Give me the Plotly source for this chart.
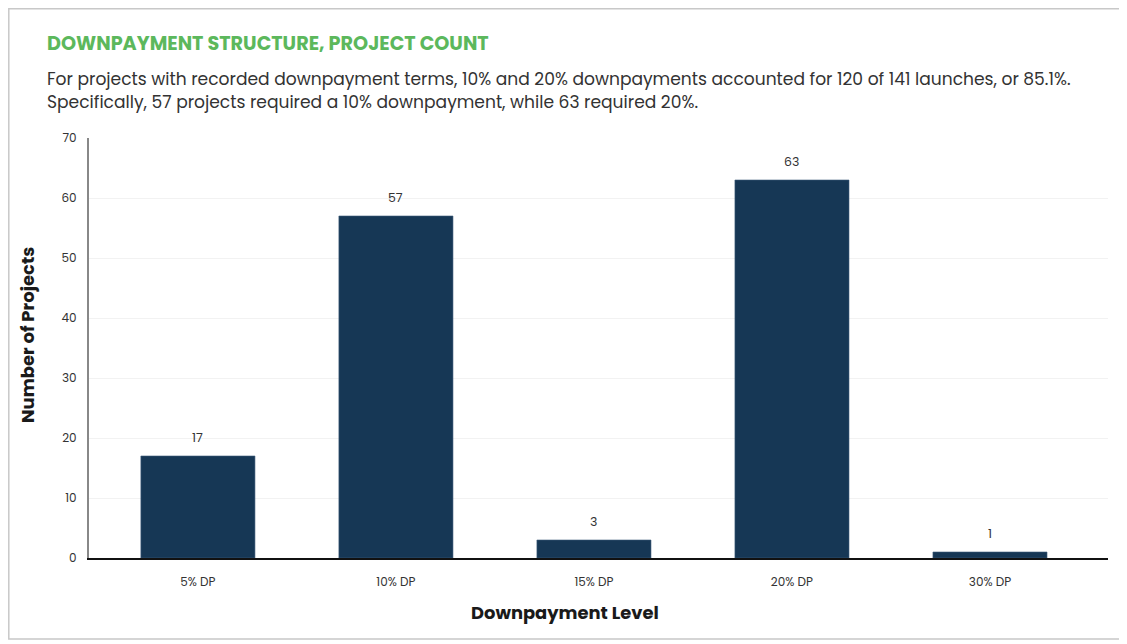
import plotly.graph_objects as go

# ── Data ────────────────────────────────────────────────────────────────────
categories = ['5% DP', '10% DP', '15% DP', '20% DP', '30% DP']
project_counts = [17, 57, 3, 63, 1]
y_ticks = [0, 10, 20, 30, 40, 50, 60, 70]

title_text = 'DOWNPAYMENT STRUCTURE, PROJECT COUNT'
subtitle_lines = [
    'For projects with recorded downpayment terms, 10% and 20% downpayments accounted for 120 of 141 launches, or 85.1%.',
    'Specifically, 57 projects required a 10% downpayment, while 63 required 20%.',
]

FONT = "Poppins, 'Open Sans', sans-serif"
BAR_COLOR = '#163755'

# page offset (body margin) – screen pixel p lands at figure pixel p - OFF
OFF = 8
W, H = 1127, 644
# plot area on screen: x 89..1108, y 138..558
L, R = 89 - OFF, W - (1108 - OFF)
T, B = 138 - OFF, H - (558 - OFF)
pw, ph = W - L - R, H - T - B


def px_x(px):
    return (px - OFF - L) / pw


def px_y(py):
    return (H - B - (py - OFF)) / ph


fig = go.Figure()
fig.add_trace(go.Bar(
    x=list(range(len(categories))),
    y=project_counts,
    width=0.576,
    marker=dict(color=BAR_COLOR, line=dict(color='#3d5a78', width=0.6)),
    hovertemplate='%{customdata}: %{y}<extra></extra>',
    customdata=categories,
    showlegend=False,
))

# value labels above the bars
for i, v in enumerate(project_counts):
    fig.add_annotation(
        x=i, y=v, text=str(v), showarrow=False,
        yanchor='middle', yshift=19,
        font=dict(family=FONT, size=12.5, color='#333333'),
    )

# title and subtitle
fig.add_annotation(
    x=px_x(45), y=px_y(44), xref='paper', yref='paper',
    xanchor='left', yanchor='middle', showarrow=False,
    text='<b>' + title_text + '</b>',
    font=dict(family=FONT, size=19.2, color='#5cb85c'),
)
for line, ypos in zip(subtitle_lines, [79, 102]):
    fig.add_annotation(
        x=px_x(45), y=px_y(ypos), xref='paper', yref='paper',
        xanchor='left', yanchor='middle', showarrow=False,
        text=line,
        font=dict(family=FONT, size=17.1, color='#333333'),
    )

# axis titles
fig.add_annotation(
    x=px_x(565), y=px_y(612), xref='paper', yref='paper',
    xanchor='center', yanchor='middle', showarrow=False,
    text='<b>Downpayment Level</b>',
    font=dict(family=FONT, size=17.9, color='#1a1a1a'),
)
fig.add_annotation(
    x=px_x(27), y=px_y(335), xref='paper', yref='paper',
    xanchor='center', yanchor='middle', showarrow=False, textangle=-90,
    text='<b>Number of Projects</b>',
    font=dict(family=FONT, size=18, color='#1a1a1a'),
)

# outer border
fig.add_shape(
    type='rect', xref='paper', yref='paper',
    x0=px_x(OFF + 0.8), x1=px_x(1123), y0=px_y(639), y1=px_y(OFF + 0.8),
    line=dict(color='#c8c8c8', width=1.5), fillcolor='rgba(0,0,0,0)',
    layer='below',
)

fig.update_layout(
    width=W, height=H,
    margin=dict(l=L, r=R, t=T, b=B, pad=0),
    plot_bgcolor='#ffffff',
    paper_bgcolor='#ffffff',
    font=dict(family=FONT, size=12, color='#333333'),
    bargap=0.4,
)

fig.update_xaxes(
    range=[-0.55, 4.596],
    tickmode='array',
    tickvals=list(range(len(categories))),
    ticktext=categories,
    showgrid=False,
    zeroline=False,
    showline=True,
    linecolor='#111111',
    linewidth=1.5,
    ticks='',
    ticklabelstandoff=12,
    tickfont=dict(family=FONT, size=12, color='#333333'),
)
fig.update_yaxes(
    range=[0, 70],
    tickmode='array',
    tickvals=y_ticks,
    showgrid=True,
    gridcolor='#f2f2f2',
    gridwidth=1,
    zeroline=False,
    showline=True,
    linecolor='#888888',
    linewidth=2,
    ticks='',
    ticklabelstandoff=8,
    tickfont=dict(family=FONT, size=12, color='#333333'),
)

fig.write_html('out.html')
